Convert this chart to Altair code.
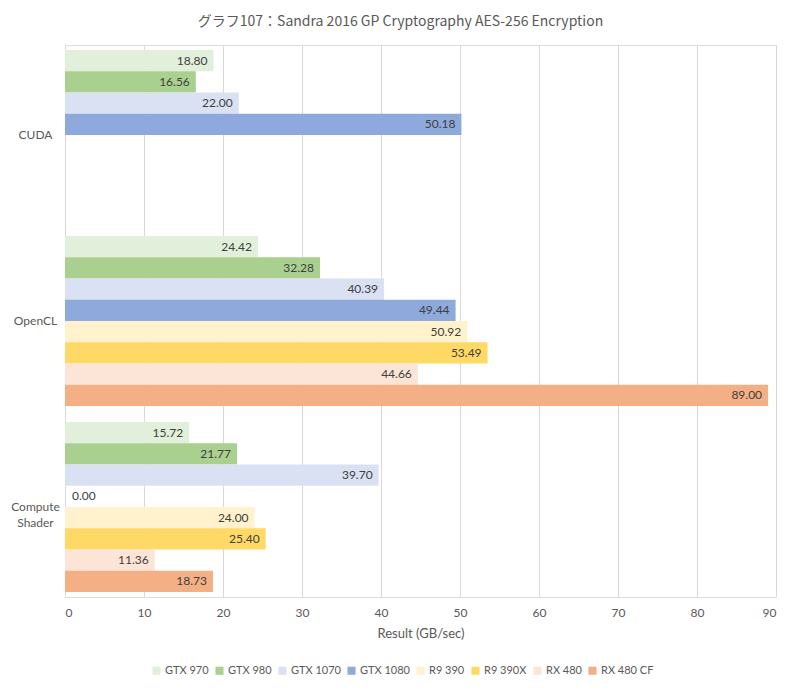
import altair as alt
import pandas as pd

categories = ["CUDA", "OpenCL", "Compute Shader"]
series = ["GTX 970", "GTX 980", "GTX 1070", "GTX 1080", "R9 390", "R9 390X", "RX 480", "RX 480 CF"]
colors = ["#e2efda", "#a9d08e", "#d9e1f2", "#8ea9db", "#fff2cc", "#ffd966", "#fce4d6", "#f4b084"]

cuda_vals = [18.80, 16.56, 22.00, 50.18]
opencl_vals = [24.42, 32.28, 40.39, 49.44, 50.92, 53.49, 44.66, 89.00]
compute_vals = [15.72, 21.77, 39.70, 0.00, 24.00, 25.40, 11.36, 18.73]

rows = []
for cat, vals in zip(categories, [cuda_vals, opencl_vals, compute_vals]):
    for s, v in zip(series, vals):
        rows.append({"cat": cat, "series": s, "value": v})
df = pd.DataFrame(rows)

W, H = 711, 552

y_enc = alt.Y("cat:N", sort=categories, title=None,
              scale=alt.Scale(paddingInner=0.086, paddingOuter=0.027),
              axis=alt.Axis(ticks=False, domain=False, labelPadding=30, labelAlign="center",
                            labelFont="Lato", labelFontSize=12, labelColor="#595959",
                            labelExpr="datum.label == 'Compute Shader' ? ['Compute', 'Shader'] : datum.label",
                            labelLineHeight=16))
yoff = alt.YOffset("series:N", sort=series, scale=alt.Scale(paddingInner=0, paddingOuter=0))
x_enc = alt.X("value:Q", title="Result (GB/sec)",
              scale=alt.Scale(domain=[0, 90], nice=False),
              axis=alt.Axis(values=list(range(0, 91, 10)), ticks=False, domain=False,
                            grid=True, gridColor="#d9d9d9", gridWidth=1,
                            labelFont="Lato", labelFontSize=12, labelColor="#595959", labelPadding=10,
                            titleFont="Lato", titleFontSize=13, titleColor="#595959",
                            titleFontWeight="normal", titlePadding=9))

bars = alt.Chart(df).mark_bar().encode(
    y=y_enc, yOffset=yoff, x=x_enc,
    color=alt.Color("series:N", sort=series,
                    scale=alt.Scale(domain=series, range=colors),
                    legend=alt.Legend(title=None, orient="none", direction="horizontal",
                                      legendX=86, legendY=620, symbolType="square",
                                      symbolSize=65, symbolStrokeWidth=0,
                                      labelFont="Lato", labelFontSize=11, labelColor="#595959",
                                      columnPadding=5, labelOffset=3, columns=8)),
)

labels = alt.Chart(df).transform_filter("datum.value > 0").mark_text(
    align="right", baseline="middle", dx=-6, font="Lato", fontSize=12, color="#404040"
).encode(y=alt.Y("cat:N", sort=categories), yOffset=yoff, x="value:Q",
         text=alt.Text("value:Q", format=".2f"))

zero_labels = alt.Chart(df).transform_filter("datum.value == 0").mark_text(
    align="left", baseline="middle", dx=7, font="Lato", fontSize=12, color="#404040"
).encode(y=alt.Y("cat:N", sort=categories), yOffset=yoff, x="value:Q",
         text=alt.Text("value:Q", format=".2f"))

chart = alt.layer(bars, labels, zero_labels).properties(
    width=W, height=H,
    title=alt.TitleParams("グラフ107：Sandra 2016 GP Cryptography AES-256 Encryption",
                          font="Noto Sans CJK JP", fontSize=14, fontWeight="normal",
                          color="#595959", anchor="middle", dx=-20, offset=16),
    autosize=alt.AutoSizeParams(type="none"),
    padding={"left": 57, "top": 37, "right": 16, "bottom": 80},
).configure_view(stroke=None).configure(background="white")

chart.save("out.html", embed_options={"renderer": "svg", "actions": False})
